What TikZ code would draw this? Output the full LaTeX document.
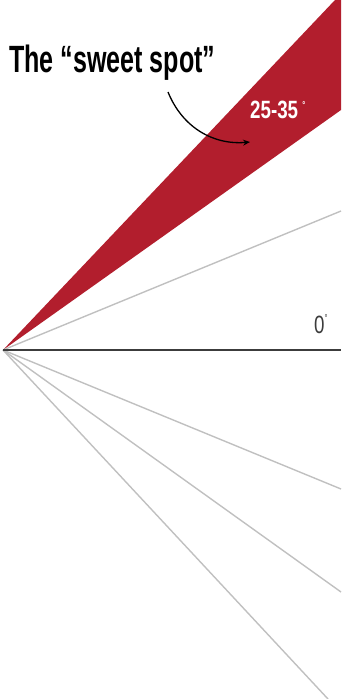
\documentclass[tikz,border=0pt]{standalone}
\usepackage{fontspec}
\usetikzlibrary{arrows.meta}
\newfontfamily\headfont[FakeStretch=0.66]{Liberation Sans}
\newfontfamily\numfont[FakeStretch=0.75]{Liberation Sans}
\definecolor{spotred}{RGB}{178,30,45}
\definecolor{raygray}{RGB}{192,192,192}
\definecolor{axisgray}{RGB}{60,60,60}
\newcommand{\degmark}[1]{\raisebox{#1}{\fontsize{10}{10}\selectfont °}}

\begin{document}
\begin{tikzpicture}[x=1pt, y=1pt,
    ray/.style={raygray, line width=1.4pt},
    every node/.style={inner sep=0pt}]

    \useasboundingbox (0,0) rectangle (341,-699);

    % Origin and the ends of the rays
    \coordinate (O)  at (3,-350);
    \coordinate (W1) at (335,0);
    \coordinate (W2) at (341,0);
    \coordinate (W3) at (341,-110);
    \coordinate (A)  at (341,-350);
    \coordinate (E1) at (341,-211);
    \coordinate (E2) at (341,-489);
    \coordinate (E3) at (341,-592);
    \coordinate (E4) at (328,-699);

    % The red wedge
    \fill[spotred] (O) -- (W1) -- (W2) -- (W3) -- cycle;

    % Grey rays
    \draw[ray] (O) -- (E1);
    \draw[ray] (O) -- (E2);
    \draw[ray] (O) -- (E3);
    \draw[ray] (O) -- (E4);

    % The 0 degree axis
    \draw[axisgray, line width=2.6pt] (O) -- (A);

    % Labels
    \node[anchor=base west] (title) at (9,-72)
        {\fontsize{38}{38}\headfont\bfseries The “sweet spot”};
    \node[anchor=base west, text=white] (range) at (250,-118)
        {\fontsize{25}{25}\numfont\bfseries 25-35\,\degmark{10pt}};
    \node[anchor=base west, text=axisgray] (zero) at (314,-333)
        {\fontsize{25}{25}\numfont 0\degmark{12pt}};

    % Arrow into the wedge
    \coordinate (S) at (168,-92);
    \coordinate (T) at (250,-142);
    \draw[black, line width=1.3pt, -{Stealth[length=7pt, width=6pt]}]
        (S) to[out=-68, in=185] (T);
\end{tikzpicture}
\end{document}
